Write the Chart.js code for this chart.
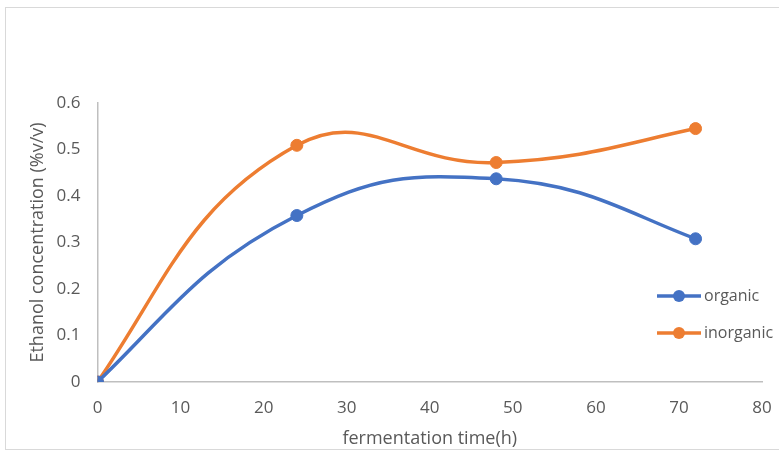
<!DOCTYPE html>
<html>
<head>
<meta charset="utf-8">
<script src="https://cdn.jsdelivr.net/npm/chart.js@4"></script>
<style>
  html, body { margin: 0; padding: 0; background: #fff; }
  #wrap { width: 779px; height: 452px; position: relative; }
</style>
</head>
<body>
<div id="wrap"><canvas id="chart" width="779" height="452"></canvas></div>
<script>
// temps de fermentation (h)
const hours = [0, 24, 48, 72]
const organic = [0, 0.358, 0.437, 0.308]
const inorganic = [0, 0.509, 0.472, 0.545]
const xTicks = [0, 10, 20, 30, 40, 50, 60, 70, 80]
const yTicks = [0, 0.1, 0.2, 0.3, 0.4, 0.5, 0.6]

const blue = '#4472C4'
const orange = '#ED7D31'
const fontFamily = '"Open Sans", sans-serif'

// cadre gris autour du graphique
const cadre = {
  id: 'cadre',
  beforeDraw(chart) {
    const ctx = chart.ctx
    ctx.save()
    ctx.strokeStyle = '#d9d9d9'
    ctx.lineWidth = 1
    ctx.strokeRect(5.5, 7.5, 800, 442)
    ctx.restore()
  }
}

// extremites des courbes lissees facon Excel (pas de S au depart)
const bordsLisses = {
  id: 'bordsLisses',
  beforeDatasetDraw(chart, args) {
    const line = args.meta.dataset
    line.updateControlPoints(chart.chartArea, 'x')
    const pts = line.points
    const a = pts[0], b = pts[1]
    a.cp2x = (a.cp2x + a.x + (b.cp1x - a.x) / 2) / 2
    a.cp2y = (a.cp2y + a.y + (b.cp1y - a.y) / 2) / 2
    const z = pts[pts.length - 1], y = pts[pts.length - 2]
    z.cp1x = (z.cp1x + z.x + (y.cp2x - z.x) / 2) / 2
    z.cp1y = (z.cp1y + z.y + (y.cp2y - z.y) / 2) / 2
  }
}

// legende a droite, par dessus la zone du graphique
const legende = {
  id: 'legende',
  afterDraw(chart) {
    const ctx = chart.ctx
    const items = [
      { label: 'organic', color: blue, y: 296 },
      { label: 'inorganic', color: orange, y: 333 }
    ]
    ctx.save()
    items.forEach(it => {
      ctx.strokeStyle = it.color
      ctx.lineWidth = 3.5
      ctx.beginPath()
      ctx.moveTo(657, it.y)
      ctx.lineTo(701, it.y)
      ctx.stroke()
      ctx.fillStyle = it.color
      ctx.beginPath()
      ctx.arc(679, it.y, 6, 0, Math.PI * 2)
      ctx.fill()
      ctx.fillStyle = '#595959'
      ctx.font = '16px ' + fontFamily
      ctx.textBaseline = 'middle'
      ctx.fillText(it.label, 704, it.y)
    })
    ctx.restore()
  }
}

function points(values) {
  return hours.map((h, i) => ({ x: h, y: values[i] }))
}

new Chart(
  document.getElementById('chart'),
  {
    type: 'line',
    data: {
      datasets: [
        {
          label: 'organic',
          data: points(organic),
          borderColor: blue,
          backgroundColor: blue,
          borderWidth: 3.5,
          pointRadius: 6,
          pointBorderWidth: 1,
          pointHoverRadius: 6,
          tension: 0.45
        },
        {
          label: 'inorganic',
          data: points(inorganic),
          borderColor: orange,
          backgroundColor: orange,
          borderWidth: 3.5,
          pointRadius: 6,
          pointBorderWidth: 1,
          pointHoverRadius: 6,
          tension: 0.45
        }
      ]
    },
    options: {
      responsive: false,
      animation: false,
      events: [],
      layout: { padding: { top: 103, right: 17, left: 27, bottom: 2 } },
      plugins: {
        legend: { display: false },
        tooltip: { enabled: false }
      },
      scales: {
        x: {
          type: 'linear',
          min: 0,
          max: 80,
          afterBuildTicks: (scale) => { scale.ticks = xTicks.map(v => ({ value: v })) },
          grid: { display: false, drawTicks: true, tickLength: 16 },
          border: { display: true, color: '#bfbfbf', width: 1.5 },
          ticks: { color: '#595959', font: { size: 17, family: fontFamily }, padding: 0, maxRotation: 0 },
          title: { display: true, text: 'fermentation time(h)', color: '#595959', font: { size: 18, family: fontFamily }, padding: { top: 10, bottom: 0 } }
        },
        y: {
          min: 0,
          max: 0.6,
          afterBuildTicks: (scale) => { scale.ticks = yTicks.map(v => ({ value: v })) },
          grid: { display: false, drawTicks: true, tickLength: 17 },
          border: { display: true, color: '#bfbfbf', width: 1.5 },
          ticks: { color: '#595959', font: { size: 17, family: fontFamily }, padding: 0 },
          title: { display: true, text: 'Ethanol concentration (%v/v)', color: '#595959', font: { size: 18, family: fontFamily }, padding: { top: 0, bottom: 8 } }
        }
      }
    },
    plugins: [cadre, bordsLisses, legende]
  }
);
</script>
</body>
</html>
